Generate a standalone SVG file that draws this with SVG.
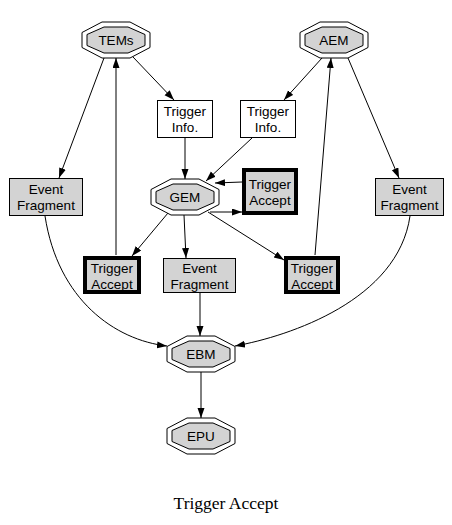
<svg xmlns="http://www.w3.org/2000/svg" xmlns:xlink="http://www.w3.org/1999/xlink" width="452" height="525" viewBox="0 0 452 525">
<style>
.lbl{font-family:"Liberation Sans",Arial,sans-serif;font-size:13.5px;text-anchor:middle;fill:#000}
.box{fill:#fff;stroke:#000;stroke-width:1}
.gbox{fill:#d3d3d3;stroke:#000;stroke-width:1}
.tbox{fill:#d3d3d3;stroke:#000;stroke-width:4}
.edge{fill:none;stroke:#000;stroke-width:1;marker-end:url(#arr)}
.cap{font-family:"Liberation Serif","Times New Roman",serif;font-size:17.5px;text-anchor:middle;fill:#000}
</style>
<defs>
<marker id="arr" markerUnits="userSpaceOnUse" markerWidth="10" markerHeight="8" refX="10" refY="3.5" orient="auto">
<path d="M0,0 L10,3.5 L0,7 z" fill="#000"/>
</marker>
<g id="dbl">
<polygon points="-14,-18 14,-18 34,-7.5 34,7.5 14,18 -14,18 -34,7.5 -34,-7.5" fill="#fff" stroke="#000"/>
<polygon points="-12,-13 12,-13 29,-5.5 29,5.5 12,13 -12,13 -29,5.5 -29,-5.5" fill="#d3d3d3" stroke="#000"/>
</g>
</defs>
<rect width="452" height="525" fill="#fff"/>
<g id="edges">
<line class="edge" x1="133" y1="57" x2="174" y2="100"/>
<line class="edge" x1="104" y1="58" x2="59" y2="178"/>
<line class="edge" x1="116" y1="255" x2="116" y2="58"/>
<line class="edge" x1="322" y1="58" x2="284" y2="100"/>
<line class="edge" x1="348" y1="58" x2="399" y2="178"/>
<line class="edge" x1="315" y1="255" x2="331" y2="58"/>
<line class="edge" x1="185" y1="138" x2="185" y2="179"/>
<line class="edge" x1="252" y1="138" x2="206" y2="181"/>
<line class="edge" x1="242" y1="182" x2="215" y2="183"/>
<line class="edge" x1="210" y1="212" x2="242" y2="212"/>
<line class="edge" x1="168" y1="213" x2="132" y2="256"/>
<line class="edge" x1="184" y1="215" x2="186" y2="258"/>
<line class="edge" x1="208" y1="212" x2="284" y2="260"/>
<path class="edge" d="M45,216 C58,300 115,340 167,346"/>
<path class="edge" d="M410,216 C398,300 290,336 235,346"/>
<line class="edge" x1="200" y1="293" x2="200" y2="336"/>
<line class="edge" x1="201" y1="372" x2="201" y2="418"/>
</g>
<g id="TEMs"><use xlink:href="#dbl" x="116" y="40"/><text class="lbl" x="116" y="44.5">TEMs</text></g>
<g id="AEM"><use xlink:href="#dbl" x="334" y="40"/><text class="lbl" x="334" y="44.5">AEM</text></g>
<g id="GEM"><use xlink:href="#dbl" x="185" y="197"/><text class="lbl" x="185" y="201.5">GEM</text></g>
<g id="EBM"><use xlink:href="#dbl" x="201" y="354"/><text class="lbl" x="201" y="358.5">EBM</text></g>
<g id="EPU"><use xlink:href="#dbl" x="201" y="436"/><text class="lbl" x="201" y="440.5">EPU</text></g>
<g id="TriggerInfoL"><rect class="box" x="157.5" y="100.5" width="55" height="37"/><text class="lbl" x="185" y="116">Trigger</text><text class="lbl" x="185" y="132">Info.</text></g>
<g id="TriggerInfoR"><rect class="box" x="240.5" y="100.5" width="55" height="37"/><text class="lbl" x="268" y="116">Trigger</text><text class="lbl" x="268" y="132">Info.</text></g>
<g id="TriggerAcceptG"><rect class="tbox" x="244" y="170" width="52" height="43"/><text class="lbl" x="270" y="189">Trigger</text><text class="lbl" x="270" y="205">Accept</text></g>
<g id="EventFragmentL"><rect class="gbox" x="9.5" y="178.5" width="73" height="37"/><text class="lbl" x="46" y="194">Event</text><text class="lbl" x="46" y="210">Fragment</text></g>
<g id="EventFragmentR"><rect class="gbox" x="375.5" y="178.5" width="68" height="37"/><text class="lbl" x="409.5" y="194">Event</text><text class="lbl" x="409.5" y="210">Fragment</text></g>
<g id="TriggerAcceptL"><rect class="tbox" x="85" y="258" width="54" height="34"/><text class="lbl" x="112" y="273">Trigger</text><text class="lbl" x="112" y="289">Accept</text></g>
<g id="EventFragmentM"><rect class="gbox" x="163.5" y="258.5" width="72" height="34"/><text class="lbl" x="199.5" y="273">Event</text><text class="lbl" x="199.5" y="289">Fragment</text></g>
<g id="TriggerAcceptR"><rect class="tbox" x="286" y="258" width="52" height="34"/><text class="lbl" x="312" y="273">Trigger</text><text class="lbl" x="312" y="289">Accept</text></g>
<text class="cap" x="226" y="509">Trigger Accept</text>
</svg>
